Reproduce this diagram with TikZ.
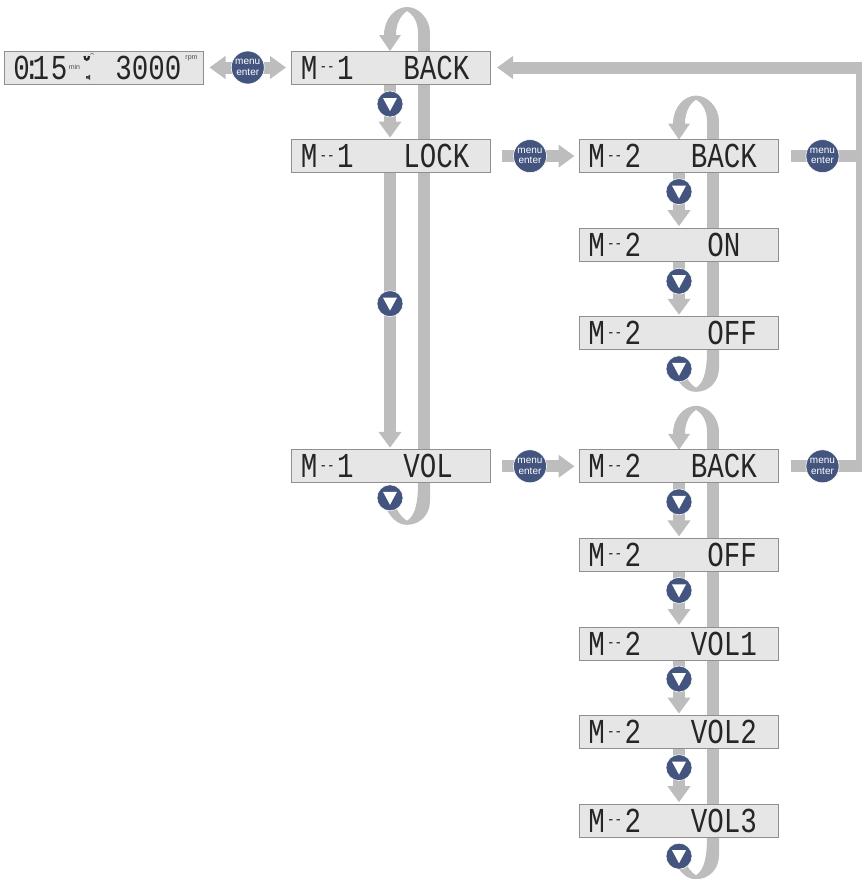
\documentclass[tikz,border=0pt]{standalone}
\usepackage{fontspec}
\usepackage{tikz}
\usetikzlibrary{matrix,positioning,calc,arrows.meta,backgrounds}
\setmainfont{Liberation Sans}
\newfontfamily\lcdfont[FakeStretch=0.786]{Liberation Mono}
\definecolor{flowgray}{HTML}{BDBDBD}
\definecolor{lcdfill}{HTML}{E6E6E6}
\definecolor{lcdline}{HTML}{8F8F8F}
\definecolor{btnblue}{HTML}{43547E}
\newcommand\lcddash{\kern2pt\raisebox{7.5pt}{\fontsize{16}{16}\selectfont--}\kern2.5pt}
\newcommand\lcdrow[2]{\hbox to 199pt{\hskip 9pt #1\hfill #2\hskip 21.5pt}}
\tikzset{
  lcdbox/.style={draw=lcdline,fill=lcdfill,line width=1pt,minimum width=199pt,minimum height=33pt,
    inner sep=0pt,outer sep=0pt,anchor=center,text=black!85,font=\lcdfont\fontsize{35}{35}\selectfont},
  flow/.style={draw=flowgray,line width=12pt},
  flowfill/.style={fill=flowgray},
  menubtn/.style={circle,fill=btnblue,draw=white,line width=.6pt,minimum size=33pt,inner sep=0pt,outer sep=0pt,
    align=center,text=white,font=\fontsize{10}{10.5}\selectfont},
  downbtn/.style={circle,fill=btnblue,draw=white,line width=.6pt,minimum size=26pt,inner sep=0pt,outer sep=0pt,
    path picture={\fill[white] ([shift={(-7,-6)}]path picture bounding box.center) -- ++(14,0) -- ++(-7,13) -- cycle;}},
  unitlbl/.style={inner sep=0pt,text=black!70,font=\fontsize{7}{7}\selectfont}
}
% loop ends, #1 is the point on the box
\newcommand\looptop[1]{\fill[flowfill,shift={(#1)}] (0,0) -- (-11,-16) -- (-6,-16) .. controls (-6,-32) and (5,-44) .. (17,-44) .. controls (29,-44) and (40,-32) .. (40,-18) -- (28,-18) .. controls (28,-28) and (24,-36) .. (17,-40) .. controls (11,-36) and (6,-28) .. (6,-16) -- (11,-16) -- cycle;}
\newcommand\loopbot[1]{\fill[flowfill,shift={(#1)}] (40,0) -- (40,18) .. controls (40,32) and (30,42) .. (17,42) .. controls (8,42) and (2,36) .. (-4,26) -- (4,20) .. controls (8,30) and (12,35) .. (17,38) .. controls (23,34) and (28,26) .. (28,0) -- cycle;}
\begin{document}
\begin{tikzpicture}[x=1pt,y=-1pt,>={Triangle[length=16pt,width=22pt]}]
    \useasboundingbox (0,0) rectangle (862,879);
    \matrix (menu) [%
      matrix of nodes,
      anchor=north west,
      inner sep=0pt,
      outer sep=0pt,
      nodes={lcdbox},
      column sep=87.5pt,
      row sep=54.6pt,ampersand replacement=\&
    ] at (4,50.5)
    {
      \hbox to 199pt{\hskip 9pt 0\kern-6.5pt:\kern-7.5pt 1\kern1.8pt 5\hfill 3000\hskip 22pt} \& \lcdrow{M\lcddash 1}{BACK} \& \\
        \& \lcdrow{M\lcddash 1}{LOCK} \& \lcdrow{M\lcddash 2}{BACK} \\
        \&  \& \lcdrow{M\lcddash 2}{~ON~} \\
        \&  \& \lcdrow{M\lcddash 2}{~OFF} \\[44.4pt]
        \& \lcdrow{M\lcddash 1}{VOL~} \& \lcdrow{M\lcddash 2}{BACK} \\
        \&  \& \lcdrow{M\lcddash 2}{~OFF} \\
        \&  \& \lcdrow{M\lcddash 2}{VOL1} \\
        \&  \& \lcdrow{M\lcddash 2}{VOL2} \\
        \&  \& \lcdrow{M\lcddash 2}{VOL3} \\
    };
    % display marks
    \node[unitlbl] (unitmin) at ($(menu-1-1.north west)+(70,16)$) {min};
    \node[unitlbl] (unitrpm) at ($(menu-1-1.north west)+(187,7)$) {rpm};
    \draw[black!85,line width=2.2pt] (84.5,56) .. controls (84.5,61) and (89,61) .. (89,56);
    \draw[black!60,line width=.5pt] (90,54.5) .. controls (91,52.5) and (93,52.5) .. (94,54.5);
    \fill[black!75] (86,76) -- (88,76) -- (90,74.5) -- (90,80) -- (88,78.5) -- (86,78.5) -- cycle;
    % buttons
    \node[menubtn] (enterA) at ($(menu-1-1.east)!.5!(menu-1-2.west)$) {menu\\enter};
    \node[menubtn,right=22.5pt of menu-2-2] (enterB) {menu\\enter};
    \node[menubtn,right=27.5pt of menu-2-3] (enterC) {menu\\enter};
    \node[menubtn,right=22.5pt of menu-5-2] (enterD) {menu\\enter};
    \node[menubtn,right=27.5pt of menu-5-3] (enterE) {menu\\enter};
    \node[downbtn,below=7pt of menu-1-2,xshift=-1.5pt] (dnA) {};
    \node[downbtn,below=118pt of menu-2-2,xshift=-1.5pt] (dnB) {};
    \node[downbtn,below=2pt of menu-5-2,xshift=-1.5pt] (dnC) {};
    \node[downbtn,below=6pt of menu-2-3] (dnD) {};
    \node[downbtn,below=7pt of menu-3-3] (dnE) {};
    \node[downbtn,below=6pt of menu-4-3] (dnF) {};
    \node[downbtn,below=6pt of menu-5-3] (dnG) {};
    \node[downbtn,below=6pt of menu-6-3] (dnH) {};
    \node[downbtn,below=6pt of menu-7-3] (dnI) {};
    \node[downbtn,below=6pt of menu-8-3] (dnJ) {};
    \node[downbtn,below=6pt of menu-9-3] (dnK) {};
    \path (menu-1-2.east) -- +(371,0) coordinate (retA);
    \coordinate (retB) at (retA |- menu-2-3.east);
    \coordinate (retC) at (retA |- menu-5-3.east);
    \begin{scope}[on background layer]
    % enter arrows
    \draw[flow,<->,shorten <=6pt,shorten >=6pt] (menu-1-1.east) -- (menu-1-2.west);
    \draw[flow,->,shorten <=11pt,shorten >=5pt] (menu-2-2.east) -- (menu-2-3.west);
    \draw[flow,->,shorten <=11pt,shorten >=5pt] (menu-5-2.east) -- (menu-5-3.west);
    \draw[flow,->,shorten <=12pt,shorten >=6pt] (menu-2-3.east) -- (retB) -- (retA) -- (menu-1-2.east);
    \draw[flow,shorten <=12pt] (menu-5-3.east) -- (retC) -- (retB);
    % down arrows
    \draw[flow,->,shorten >=2pt] (dnA |- menu-1-2.south) -- (dnA |- menu-2-2.north);
    \draw[flow,->,shorten >=2pt] (dnB |- menu-2-2.south) -- (dnB |- menu-5-2.north);
    \draw[flow,->,shorten >=2pt] (dnD |- menu-2-3.south) -- (dnD |- menu-3-3.north);
    \draw[flow,->,shorten >=2pt] (dnE |- menu-3-3.south) -- (dnE |- menu-4-3.north);
    \draw[flow,->,shorten >=2pt] (dnG |- menu-5-3.south) -- (dnG |- menu-6-3.north);
    \draw[flow,->,shorten >=2pt] (dnH |- menu-6-3.south) -- (dnH |- menu-7-3.north);
    \draw[flow,->,shorten >=2pt] (dnI |- menu-7-3.south) -- (dnI |- menu-8-3.north);
    \draw[flow,->,shorten >=2pt] (dnJ |- menu-8-3.south) -- (dnJ |- menu-9-3.north);
    % return loops
    \looptop{dnA |- menu-1-2.north}
    \loopbot{dnC |- menu-5-2.south}
    \draw[flow] ($(dnA |- menu-1-2.north)+(34,-20)$) -- ($(dnC |- menu-5-2.south)+(34,1)$);
    \looptop{dnD |- menu-2-3.north}
    \loopbot{dnF |- menu-4-3.south}
    \draw[flow] ($(dnD |- menu-2-3.north)+(34,-20)$) -- ($(dnF |- menu-4-3.south)+(34,1)$);
    \looptop{dnG |- menu-5-3.north}
    \loopbot{dnK |- menu-9-3.south}
    \draw[flow] ($(dnG |- menu-5-3.north)+(34,-20)$) -- ($(dnK |- menu-9-3.south)+(34,1)$);
    \end{scope}
\end{tikzpicture}
\end{document}
